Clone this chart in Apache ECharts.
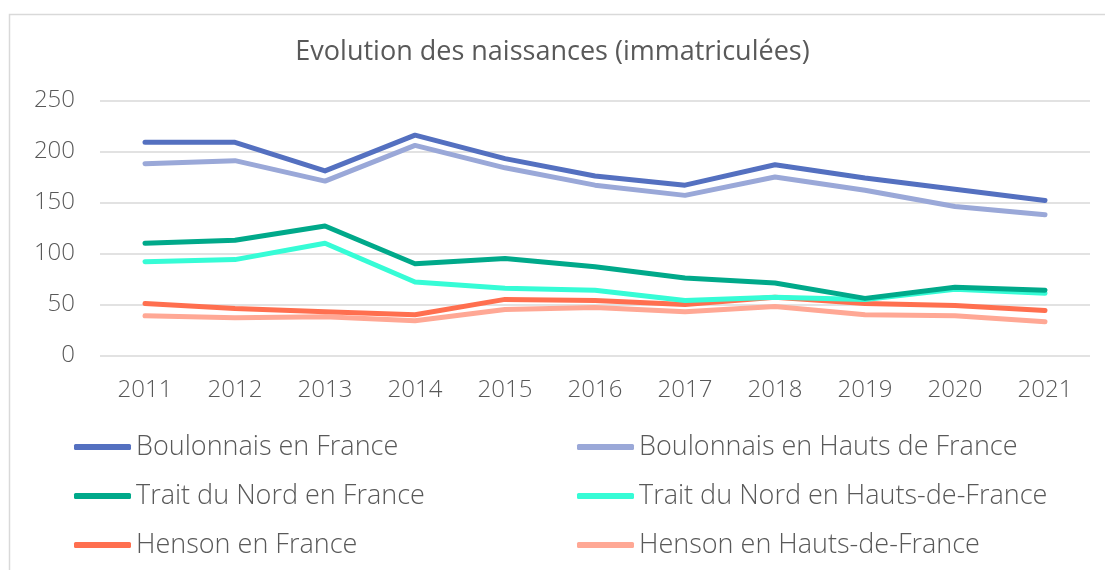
<!DOCTYPE html>
<html>
<head>
<meta charset="utf-8">
<script src="https://cdn.jsdelivr.net/npm/echarts@6/dist/echarts.min.js"></script>
<style>html,body{margin:0;padding:0;background:#fff;}#c{width:1105px;height:570px;}</style>
</head>
<body>
<div id="c"></div>
<script>
var categories = ['2011','2012','2013','2014','2015','2016','2017','2018','2019','2020','2021'];
var seriesNames = ['Boulonnais en France','Boulonnais en Hauts de France','Trait du Nord en France','Trait du Nord en Hauts-de-France','Henson en France','Henson en Hauts-de-France'];
var boulonnaisFrance = [209, 209, 181, 216, 193, 176, 167, 187, 174, 163, 152];
var boulonnaisHdF   = [188, 191, 171, 206, 184, 167, 157, 175, 162, 146, 138];
var traitFrance     = [110, 113, 127, 90, 95, 87, 76, 71, 56, 67, 64];
var traitHdF        = [92, 94, 110, 72, 66, 64, 54, 57, 55, 65, 61];
var hensonFrance    = [51, 46, 43, 40, 55, 54, 50, 57, 51, 49, 44];
var hensonHdF       = [39, 37, 38, 34, 45, 47, 43, 48, 40, 39, 33];
var yTicks = [0, 50, 100, 150, 200, 250];

var colors = ['#5470C0', '#9AA8D8', '#00A98A', '#36FCD6', '#FF6F4F', '#FFA895'];
var values = [boulonnaisFrance, boulonnaisHdF, traitFrance, traitHdF, hensonFrance, hensonHdF];
var FONT = '"Open Sans", Lato, sans-serif';
var TXT = '#595959';

var series = seriesNames.map(function (n, i) {
  return {
    name: n, type: 'line', data: values[i], symbol: 'none',
    lineStyle: { color: colors[i], width: 5, cap: 'round', join: 'round' },
    itemStyle: { color: colors[i] }, z: 10 - i
  };
});

var legendPos = [[74, 432], [577, 432], [74, 481], [577, 481], [74, 530], [577, 530]];
var legends = seriesNames.map(function (n, i) {
  return {
    data: [n], left: legendPos[i][0], top: legendPos[i][1],
    icon: 'roundRect', itemWidth: 57, itemHeight: 6, itemGap: 0, padding: 0,
    selectedMode: false,
    textStyle: { fontFamily: FONT, fontWeight: 300, fontSize: 27, color: TXT, padding: [0, 0, 0, 0], lineHeight: 30 },
    itemStyle: { borderWidth: 0 }
  };
});

var chart = echarts.init(document.getElementById('c'), null, { renderer: 'canvas' });
chart.setOption({
  animation: false,
  backgroundColor: '#fff',
  color: colors,
  title: {
    text: 'Evolution des naissances (immatriculées)', left: 'center', top: 34,
    textStyle: { fontFamily: FONT, fontWeight: 400, fontSize: 27, color: TXT }
  },
  graphic: [{
    type: 'rect', shape: { x: 9.5, y: 14.5, width: 1200, height: 700 },
    style: { fill: 'none', stroke: '#d9d9d9', lineWidth: 1.5 }, silent: true
  }],
  legend: legends,
  grid: { left: 100, right: 15, top: 100.5, bottom: 214.5, containLabel: false },
  xAxis: {
    type: 'category', data: categories, boundaryGap: true,
    axisLine: { show: false }, axisTick: { show: false },
    axisLabel: { fontFamily: FONT, fontWeight: 300, fontSize: 24, color: TXT, margin: 23 }
  },
  yAxis: {
    type: 'value', min: yTicks[0], max: yTicks[yTicks.length - 1], interval: 50,
    axisLine: { show: false }, axisTick: { show: false },
    axisLabel: { fontFamily: FONT, fontWeight: 300, fontSize: 24, color: TXT, margin: 25 },
    splitLine: { lineStyle: { color: '#d9d9d9', width: 1.5 } }
  },
  series: series
});
</script>
</body>
</html>
